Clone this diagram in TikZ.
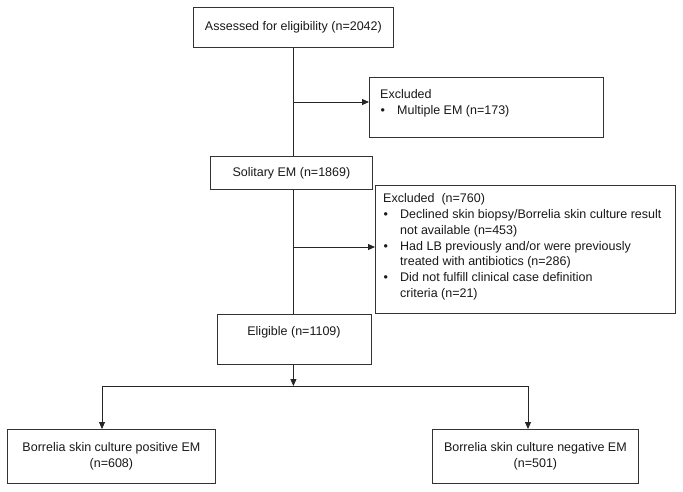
\documentclass[tikz,border=0pt]{standalone}
\usepackage{fontspec}
\setmainfont{Liberation Sans}
\usetikzlibrary{arrows.meta}
\begin{document}
\begin{tikzpicture}[x=1pt,y=-1pt,
  box/.style={draw=black!80,line width=0.8pt,rectangle,inner sep=0pt,anchor=north west},
  lbl/.style={inner sep=0pt,text=black!90,font=\fontsize{12.5}{15.8}\selectfont},
  conn/.style={draw=black!85,line width=0.8pt},
  tip/.tip={Triangle[length=7pt,width=6pt]},
  arr/.style={conn,-tip}]
\useasboundingbox[fill=white] (0,0) rectangle (683,491);
% boxes
\node[box,minimum width=200pt,minimum height=40pt] (assess) at (193,7) {};
\node[lbl] (assesst) at (assess.center) {Assessed for eligibility (n=2042)};
\node[box,minimum width=234pt,minimum height=60pt] (ex1) at (369,77) {};
\node[box,minimum width=162pt,minimum height=33pt] (sol) at (210,156) {};
\node[lbl] (solt) at (sol.center) {Solitary EM (n=1869)};
\node[box,minimum width=300pt,minimum height=128pt] (ex2) at (375,185) {};
\node[box,minimum width=154pt,minimum height=50pt] (elig) at (217,314) {};
\node[lbl] (eligt) at (294,332) {Eligible (n=1109)};
\node[box,minimum width=208pt,minimum height=54pt] (pos) at (7,429) {};
\node[lbl,align=center] (post) at (pos.center) {Borrelia skin culture positive EM\\(n=608)};
\node[box,minimum width=206pt,minimum height=54pt] (neg) at (432,429) {};
\node[lbl,align=center] (negt) at (neg.center) {Borrelia skin culture negative EM\\(n=501)};
% excluded texts
\node[lbl,anchor=north west] (ex1t) at (380,87.4) {\begin{tabular}{@{}l@{}}
Excluded\\
\makebox[17pt][l]{\hspace{0.5pt}•}Multiple EM (n=173)
\end{tabular}};
\node[lbl,anchor=north west] (ex2t) at (383,191.4) {\begin{tabular}{@{}l@{}}
Excluded\ \ (n=760)\\
\makebox[17pt][l]{\hspace{0.5pt}•}Declined skin biopsy/Borrelia skin culture result\\
\hspace{17pt}not available (n=453)\\
\makebox[17pt][l]{\hspace{0.5pt}•}Had LB previously and/or were previously\\
\hspace{17pt}treated with antibiotics (n=286)\\
\makebox[17pt][l]{\hspace{0.5pt}•}Did not fulfill clinical case definition\\
\hspace{17pt}criteria (n=21)
\end{tabular}};
% connectors
\draw[conn] (assess.south) -- (assess.south |- sol.north);
\coordinate (j1) at (293,102);
\draw[arr] (j1) -- (j1 -| ex1.west);
\draw[conn] (assess.south |- sol.south) -- (assess.south |- elig.north);
\coordinate (j2) at (293,247);
\draw[arr] (j2) -- (j2 -| ex2.west);
\coordinate (sl) at (102,386);
\coordinate (sr) at (528,386);
\draw[arr] (assess.south |- elig.south) -- (assess.south |- sl);
\draw[conn,tip-tip] (sl |- pos.north) -- (sl) -- (sr) -- (sr |- neg.north);
\end{tikzpicture}
\end{document}
